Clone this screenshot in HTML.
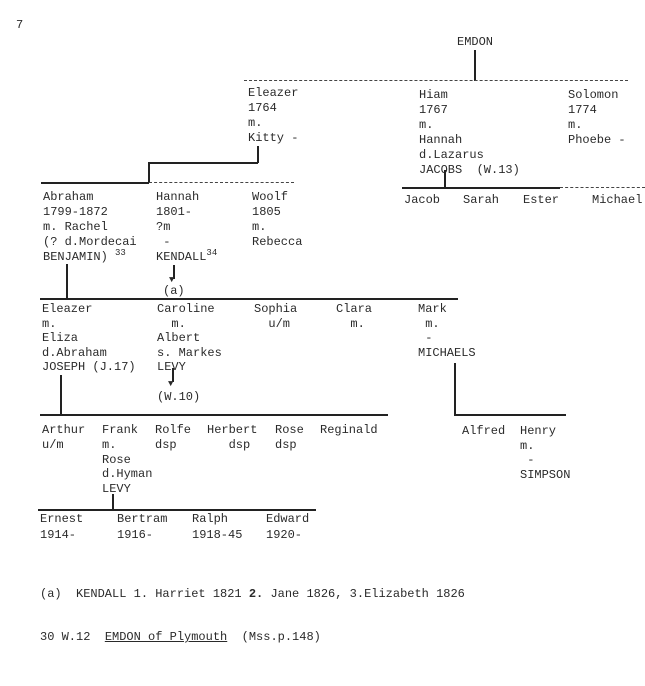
<!DOCTYPE html>
<html><head><meta charset="utf-8"><style>
body{margin:0;background:#fff;width:645px;height:686px;position:relative;overflow:hidden}
.t{position:absolute;font-family:"Liberation Mono",monospace;font-size:12px;line-height:15px;color:#2a2a2a;white-space:pre}
.l{position:absolute;background:#222}
.d{position:absolute;border-top:1.5px dashed #444;height:0}
sup{font-size:9px;line-height:0}
</style></head><body>
<div class="t" style="left:16px;top:18px">7</div>
<div class="t" style="left:457px;top:35px">EMDON</div>
<div class="l" style="left:474px;top:50px;width:1.5px;height:31px"></div>
<div class="d" style="left:244px;top:80px;width:384px"></div>

<div class="t" style="left:248px;top:86px">Eleazer
1764
m.
Kitty -</div>
<div class="t" style="left:419px;top:88px">Hiam
1767
m.
Hannah
d.Lazarus
JACOBS  (W.13)</div>
<div class="t" style="left:568px;top:88px">Solomon
1774
m.
Phoebe -</div>

<div class="l" style="left:257px;top:146px;width:1.5px;height:17px"></div>
<div class="l" style="left:148px;top:162px;width:110px;height:1.5px"></div>
<div class="l" style="left:148px;top:162px;width:1.5px;height:21px"></div>
<div class="l" style="left:41px;top:182px;width:108px;height:1.5px"></div>
<div class="d" style="left:149px;top:182px;width:145px"></div>

<div class="l" style="left:444px;top:170px;width:1.5px;height:18px"></div>
<div class="l" style="left:402px;top:187px;width:158px;height:1.5px"></div>
<div class="d" style="left:560px;top:187px;width:85px"></div>
<div class="t" style="left:404px;top:193px">Jacob</div>
<div class="t" style="left:463px;top:193px">Sarah</div>
<div class="t" style="left:523px;top:193px">Ester</div>
<div class="t" style="left:592px;top:193px">Michael</div>

<div class="t" style="left:43px;top:190px">Abraham
1799-1872
m. Rachel
(? d.Mordecai
BENJAMIN) <sup>33</sup></div>
<div class="t" style="left:156px;top:190px">Hannah
1801-
?m
 -
KENDALL<sup>34</sup></div>
<div class="t" style="left:252px;top:190px">Woolf
1805
m.
Rebecca</div>
<div class="l" style="left:173px;top:265px;width:1.5px;height:14px"></div>
<div class="t" style="left:169px;top:273px;font-size:9px">▼</div>
<div class="t" style="left:163px;top:284px">(a)</div>
<div class="l" style="left:66px;top:264px;width:1.5px;height:35px"></div>
<div class="l" style="left:40px;top:298px;width:418px;height:1.5px"></div>

<div class="t" style="left:42px;top:302px;line-height:14.6px">Eleazer
m.
Eliza
d.Abraham
JOSEPH (J.17)</div>
<div class="t" style="left:157px;top:302px;line-height:14.6px">Caroline
  m.
Albert
s. Markes
LEVY</div>
<div class="t" style="left:254px;top:302px;line-height:14.6px">Sophia
  u/m</div>
<div class="t" style="left:336px;top:302px;line-height:14.6px">Clara
  m.</div>
<div class="t" style="left:418px;top:302px;line-height:14.6px">Mark
 m.
 -
MICHAELS</div>
<div class="l" style="left:172px;top:368px;width:1.5px;height:14px"></div>
<div class="t" style="left:168px;top:377px;font-size:9px">▼</div>
<div class="t" style="left:157px;top:390px">(W.10)</div>

<div class="l" style="left:60px;top:375px;width:1.5px;height:40px"></div>
<div class="l" style="left:40px;top:414px;width:348px;height:1.5px"></div>
<div class="l" style="left:454px;top:363px;width:1.5px;height:52px"></div>
<div class="l" style="left:454px;top:414px;width:112px;height:1.5px"></div>

<div class="t" style="left:42px;top:423px">Arthur
u/m</div>
<div class="t" style="left:102px;top:423px;line-height:14.8px">Frank
m.
Rose
d.Hyman
LEVY</div>
<div class="t" style="left:155px;top:423px">Rolfe
dsp</div>
<div class="t" style="left:207px;top:423px">Herbert
   dsp</div>
<div class="t" style="left:275px;top:423px">Rose
dsp</div>
<div class="t" style="left:320px;top:423px">Reginald</div>
<div class="t" style="left:462px;top:424px">Alfred</div>
<div class="t" style="left:520px;top:424px;line-height:14.6px">Henry
m.
 -
SIMPSON</div>

<div class="l" style="left:112px;top:494px;width:1.5px;height:16px"></div>
<div class="l" style="left:38px;top:509px;width:278px;height:1.5px"></div>
<div class="t" style="left:40px;top:511px;line-height:16px">Ernest
1914-</div>
<div class="t" style="left:117px;top:511px;line-height:16px">Bertram
1916-</div>
<div class="t" style="left:192px;top:511px;line-height:16px">Ralph
1918-45</div>
<div class="t" style="left:266px;top:511px;line-height:16px">Edward
1920-</div>

<div class="t" style="left:40px;top:587px">(a)  KENDALL 1. Harriet 1821 <b>2.</b> Jane 1826, 3.Elizabeth 1826</div>
<div class="t" style="left:40px;top:630px">30 W.12  <span style="text-decoration:underline">EMDON of Plymouth</span>  (Mss.p.148)</div>
</body></html>
